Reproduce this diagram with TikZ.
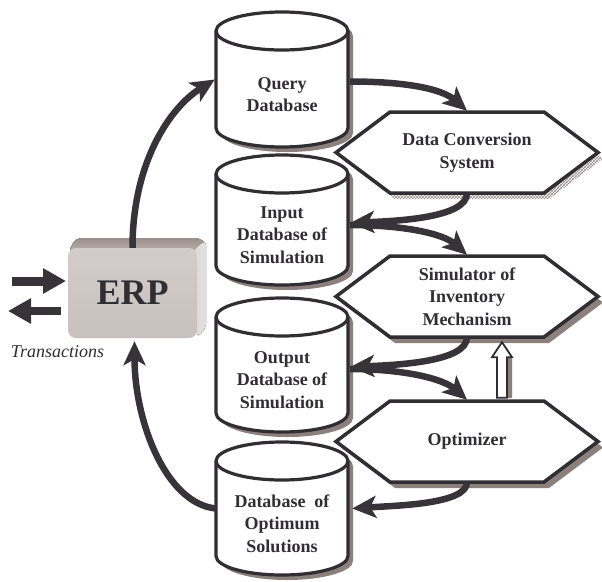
\documentclass[tikz,border=0pt]{standalone}
\usepackage{fontspec}
\setmainfont{Liberation Serif}
\usetikzlibrary{arrows.meta,patterns,calc}
\definecolor{outc}{RGB}{48,46,50}
\definecolor{arrc}{RGB}{54,52,57}
\definecolor{shc}{RGB}{140,128,125}
\definecolor{hatc}{RGB}{150,140,138}
\definecolor{erpf}{RGB}{200,192,189}
\definecolor{erpt}{RGB}{155,143,139}
\definecolor{erps}{RGB}{228,224,222}
\tikzset{
  boxtext/.style={align=center, font=\fontsize{18}{22.5}\selectfont\bfseries, text=outc, inner sep=0pt},
  flowarrow/.style={draw=arrc, line width=6.5pt, -{Stealth[length=24pt,width=22pt,inset=6pt]}},
  transarrow/.style={draw=arrc, -{Triangle[length=23pt,width=24pt]}},
  outline/.style={draw=outc, line width=3.2pt},
}
\newcommand\dbcyl[5]{% name, cx, ytop, ybot, text
  \path[fill=shc] (#2-66+5,#3+19+5) -- (#2-66+5,#4-19+5)
     arc[start angle=180,end angle=0,x radius=66,y radius=19]
     -- (#2+66+5,#3+19+5)
     arc[start angle=0,end angle=-180,x radius=66,y radius=19] -- cycle;
  \path[fill=white, outline] (#2-66,#3+19) -- (#2-66,#4-19)
     arc[start angle=180,end angle=0,x radius=66,y radius=19]
     -- (#2+66,#3+19)
     arc[start angle=0,end angle=-180,x radius=66,y radius=19] -- cycle;
  \draw[outline] (#2-66,#3+19) arc[start angle=180,end angle=0,x radius=66,y radius=19];
  \node[inner sep=0pt, minimum width=132, minimum height=#4-#3] (#1) at (#2,{(#3+#4)/2}) {};
  \node[boxtext] (#1-t) at (#2,{(#3+#4)/2+15}) {#5};
}
\newcommand\hexa[5]{% name, cx, cy, text, shadow style
  \path[#5] (#2-131+5,#3+6) -- (#2-77+5,#3-40.5+6) -- (#2+77+5,#3-40.5+6)
     -- (#2+131+5,#3+6) -- (#2+77+5,#3+40.5+6) -- (#2-77+5,#3+40.5+6) -- cycle;
  \path[fill=white, draw=outc, line width=3.5pt, line join=miter]
     (#2-131,#3) -- (#2-77,#3-40.5) -- (#2+77,#3-40.5)
     -- (#2+131,#3) -- (#2+77,#3+40.5) -- (#2-77,#3+40.5) -- cycle;
  \node[boxtext, minimum width=262, minimum height=81] (#1) at (#2,#3) {#4};
}
\begin{document}
\begin{tikzpicture}[x=1pt,y=-1pt]
\useasboundingbox[fill=white] (0,0) rectangle (602,581);

% databases
\dbcyl{qd}{282}{12}{147}{Query\\Database}
\dbcyl{inp}{282}{155}{285}{Input\\Database of\\Simulation}
\dbcyl{outd}{282}{298}{432}{Output\\Database of\\Simulation}
\dbcyl{osol}{282}{442}{575}{Database~~of\\Optimum\\Solutions}

% processes
\hexa{dc}{467}{152.5}{Data Conversion\\System}{pattern=crosshatch, pattern color=hatc}
\hexa{sim}{467}{296.5}{Simulator of\\Inventory\\Mechanism}{fill=shc}
\hexa{opt}{467}{441.5}{Optimizer}{fill=shc}

% ERP box
\fill[rounded corners=5pt, top color=erpt, bottom color=erpf!70!erpt]
  (68,252) -- (76,238) -- (200,238) -- (206,244) -- (197,252) -- cycle;
\fill[rounded corners=5pt, left color=erpf!60!white, right color=erps]
  (193,250) -- (206,240) -- (206,328) -- (197,338) -- cycle;
\node[rounded corners=8pt, top color=erpf!80!white, bottom color=erpf,
      minimum width=129, minimum height=90, inner sep=0pt,
      font=\fontsize{36}{40}\selectfont\bfseries, text=outc] (erp) at (132.5,293) {ERP};

% transactions
\coordinate (t1a) at (12,281);
\coordinate (t1b) at (66,281);
\coordinate (t2a) at (61,311);
\coordinate (t2b) at (8,311);
\draw[transarrow, line width=9pt] (t1a) -- (t1b);
\draw[transarrow, line width=8pt] (t2a) -- (t2b);
\node[font=\fontsize{18}{22}\selectfont\itshape, text=outc, inner sep=0pt] (trans) at (57.5,352) {Transactions};

% flow arrows
\draw[flowarrow] (erp.north) .. controls +(0,-85) and +(-45,28) .. ($(qd.west)+(-1,0)$);
\draw[flowarrow] ($(qd.east)+(2,2)$) .. controls +(55,0) and +(-25,-22) .. ($(dc.north)+(0,-1)$);
\draw[flowarrow] (dc.south) .. controls +(0,25) and +(45,-2) .. ($(inp.east)+(2,3)$);
\draw[flowarrow] ($(inp.east)+(2,5)$) .. controls +(50,0) and +(-25,-22) .. ($(sim.north)+(0,-1)$);
\draw[flowarrow] (sim.south) .. controls +(0,25) and +(45,-2) .. ($(outd.east)+(2,2)$);
\draw[flowarrow] ($(outd.east)+(2,4)$) .. controls +(50,0) and +(-25,-22) .. ($(opt.north)+(0,-1)$);
\draw[flowarrow] (opt.south) .. controls +(0,22) and +(45,-3) .. ($(osol.east)+(4,0)$);
\draw[flowarrow] (osol.west) .. controls +(-50,-5) and +(0,80) .. ($(erp.south)+(2,3)$);

% hollow feedback arrow optimizer -> simulator
\coordinate (hb) at ($(opt.north)+(35,-3)$);
\coordinate (ht) at ($(sim.south)+(35,5)$);
\fill[shc] ($(hb)+(5,0)$) -- ($(ht)+(5,15)$) -- ($(ht)+(10,15)$) -- ($(ht)+(0,3)$) -- ($(ht)+(10,17)$) -- ($(hb)+(10,0)$) -- cycle;
\fill[shc] ($(ht)+(5,15)$) rectangle ($(hb)+(10,0)$);
\path[fill=white, draw=outc, line width=1.8pt, line join=miter]
  (ht) -- ($(ht)+(10,15)$) -- ($(ht)+(5,15)$) -- ($(hb)+(5,0)$)
  -- ($(hb)+(-5,0)$) -- ($(ht)+(-5,15)$) -- ($(ht)+(-10,15)$) -- cycle;
\end{tikzpicture}
\end{document}
